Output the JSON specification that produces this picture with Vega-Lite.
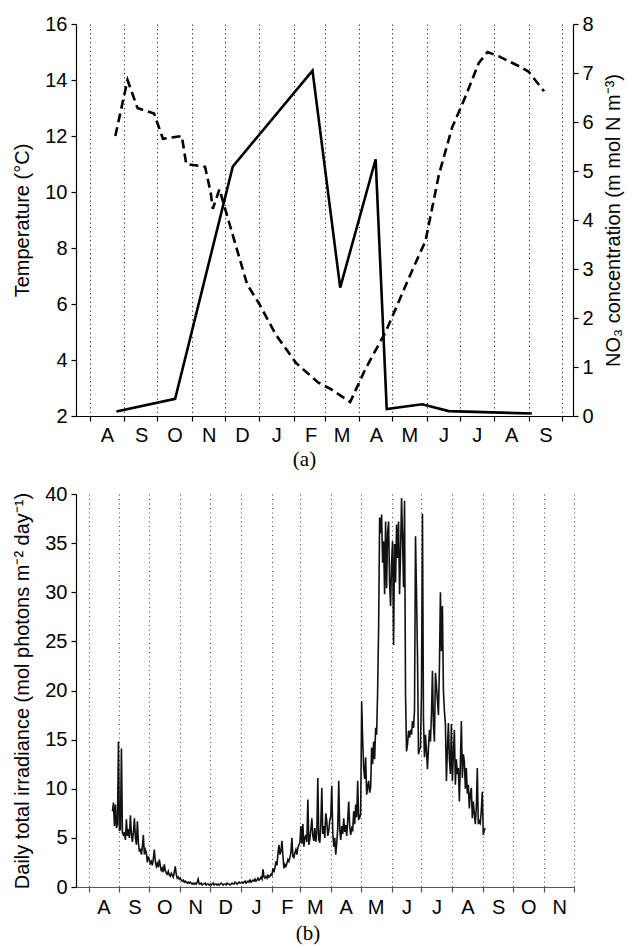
{
  "$schema": "https://vega.github.io/schema/vega-lite/v6.json",
  "background": "white",
  "padding": {"left": 12, "top": 14, "right": 5, "bottom": 5},
  "config": {
    "font": "Liberation Sans",
    "view": {"stroke": null},
    "axis": {
      "labelFont": "Liberation Sans", "titleFont": "Liberation Sans",
      "labelFontSize": 20, "titleFontSize": 20, "titleFontWeight": "normal",
      "labelColor": "black", "titleColor": "black",
      "domainColor": "black", "tickColor": "black", "domainWidth": 1.2, "tickWidth": 1.2,
      "grid": false, "tickSize": 5, "labelPadding": 4, "titleLimit": 1000
    },
    "title": {"font": "Liberation Serif", "fontSize": 21, "fontWeight": "normal", "color": "black"}
  },
  "vconcat": [
    {
      "width": 497,
      "height": 392,
      "title": {"text": "(a)", "orient": "bottom", "anchor": "middle", "offset": 4, "dx": -20},
      "encoding": {
        "x": {
          "field": "d", "type": "temporal",
          "scale": {"type": "utc", "domain": [
            {"year": 2006, "month": 7, "date": 19, "hours": 12, "utc": true},
            {"year": 2007, "month": 10, "date": 11, "hours": 4, "utc": true}
          ]},
          "axis": {
            "title": null,
            "grid": true, "gridDash": [1.2, 3.2], "gridColor": "#222", "gridWidth": 1,
            "values": [
              {"year": 2006, "month": 8, "date": 1, "utc": true},
              {"year": 2006, "month": 9, "date": 1, "utc": true},
              {"year": 2006, "month": 10, "date": 1, "utc": true},
              {"year": 2006, "month": 11, "date": 1, "utc": true},
              {"year": 2006, "month": 12, "date": 1, "utc": true},
              {"year": 2007, "month": 1, "date": 1, "utc": true},
              {"year": 2007, "month": 2, "date": 1, "utc": true},
              {"year": 2007, "month": 3, "date": 1, "utc": true},
              {"year": 2007, "month": 4, "date": 1, "utc": true},
              {"year": 2007, "month": 5, "date": 1, "utc": true},
              {"year": 2007, "month": 6, "date": 1, "utc": true},
              {"year": 2007, "month": 7, "date": 1, "utc": true},
              {"year": 2007, "month": 8, "date": 1, "utc": true},
              {"year": 2007, "month": 9, "date": 1, "utc": true},
              {"year": 2007, "month": 10, "date": 1, "utc": true}
            ],
            "labelExpr": "utcFormat(datum.value, '%Y%m') == '200710' ? '' : substring(utcFormat(datum.value, '%b'), 0, 1)",
            "labelOffset": 17, "labelFlush": false, "labelOverlap": false, "labelBound": false
          }
        }
      },
      "layer": [
        {
          "data": {"values": [
            {"d": "2006-08-24", "t": 12.0}, {"d": "2006-09-04", "t": 14.0}, {"d": "2006-09-13", "t": 13.0},
            {"d": "2006-09-28", "t": 12.8}, {"d": "2006-10-06", "t": 11.9}, {"d": "2006-10-23", "t": 12.0},
            {"d": "2006-10-27", "t": 11.0}, {"d": "2006-11-13", "t": 10.9}, {"d": "2006-11-18", "t": 10.0},
            {"d": "2006-11-20", "t": 9.4}, {"d": "2006-11-26", "t": 10.1}, {"d": "2006-12-07", "t": 8.6},
            {"d": "2006-12-21", "t": 6.7}, {"d": "2007-01-01", "t": 6.0}, {"d": "2007-01-16", "t": 4.9},
            {"d": "2007-02-03", "t": 3.9}, {"d": "2007-02-23", "t": 3.2}, {"d": "2007-03-07", "t": 2.95},
            {"d": "2007-03-24", "t": 2.5}, {"d": "2007-04-07", "t": 3.7}, {"d": "2007-04-25", "t": 5.0},
            {"d": "2007-05-07", "t": 6.1}, {"d": "2007-05-19", "t": 7.2}, {"d": "2007-05-31", "t": 8.25},
            {"d": "2007-06-12", "t": 10.6}, {"d": "2007-06-24", "t": 12.3}, {"d": "2007-07-06", "t": 13.4},
            {"d": "2007-07-18", "t": 14.6}, {"d": "2007-07-26", "t": 15.0}, {"d": "2007-08-05", "t": 14.85},
            {"d": "2007-08-23", "t": 14.5}, {"d": "2007-09-01", "t": 14.3}, {"d": "2007-09-15", "t": 13.6}
          ]},
          "mark": {"type": "line", "color": "black", "strokeWidth": 2.6, "strokeDash": [9, 5]},
          "encoding": {
            "y": {
              "field": "t", "type": "quantitative",
              "scale": {"domain": [2, 16], "nice": false, "zero": false},
              "axis": {"title": "Temperature (°C)", "values": [2, 4, 6, 8, 10, 12, 14, 16], "titlePadding": 12}
            }
          }
        },
        {
          "data": {"values": [
            {"d": "2006-08-25", "n": 0.09}, {"d": "2006-10-17", "n": 0.35}, {"d": "2006-12-08", "n": 5.09},
            {"d": "2007-02-18", "n": 7.05}, {"d": "2007-03-15", "n": 2.62}, {"d": "2007-04-16", "n": 5.24},
            {"d": "2007-04-26", "n": 0.14}, {"d": "2007-05-28", "n": 0.24}, {"d": "2007-06-21", "n": 0.1},
            {"d": "2007-09-04", "n": 0.05}
          ]},
          "mark": {"type": "line", "color": "black", "strokeWidth": 2.6},
          "encoding": {
            "y": {
              "field": "n", "type": "quantitative",
              "scale": {"domain": [0, 8], "nice": false},
              "axis": {"orient": "right", "title": "NO₃ concentration (m mol N m⁻³)", "values": [0, 1, 2, 3, 4, 5, 6, 7, 8], "titleAngle": 270, "titleBaseline": "top", "titlePadding": 10}
            }
          }
        }
      ],
      "resolve": {"scale": {"y": "independent"}, "axis": {"y": "independent"}}
    },
    {
      "width": 498,
      "height": 393,
      "title": {"text": "(b)", "orient": "bottom", "anchor": "middle", "offset": 6, "dx": -17},
      "data": {"values": [
        {"d":"2006-08-25","v":7.7},{"d":"2006-08-26","v":8.6},{"d":"2006-08-27","v":6.2},{"d":"2006-08-28","v":8.4},{"d":"2006-08-29","v":6.0},{"d":"2006-08-30","v":6.4},{"d":"2006-08-31","v":14.8},
        {"d":"2006-09-01","v":5.7},{"d":"2006-09-02","v":5.9},{"d":"2006-09-03","v":14.1},{"d":"2006-09-04","v":5.5},{"d":"2006-09-05","v":5.3},{"d":"2006-09-06","v":5.6},{"d":"2006-09-07","v":4.8},{"d":"2006-09-08","v":6.9},{"d":"2006-09-09","v":5.2},{"d":"2006-09-10","v":5.9},
        {"d":"2006-09-11","v":5.0},{"d":"2006-09-12","v":7.3},{"d":"2006-09-13","v":5.4},{"d":"2006-09-14","v":4.6},{"d":"2006-09-15","v":5.6},{"d":"2006-09-16","v":7.0},{"d":"2006-09-17","v":5.1},{"d":"2006-09-18","v":4.3},{"d":"2006-09-19","v":6.7},{"d":"2006-09-20","v":4.5},
        {"d":"2006-09-21","v":3.6},{"d":"2006-09-22","v":3.9},{"d":"2006-09-23","v":3.3},{"d":"2006-09-24","v":4.1},{"d":"2006-09-25","v":5.3},{"d":"2006-09-26","v":3.3},{"d":"2006-09-27","v":3.8},{"d":"2006-09-28","v":3.5},{"d":"2006-09-29","v":2.5},{"d":"2006-09-30","v":3.1},
        {"d":"2006-10-01","v":2.8},{"d":"2006-10-02","v":2.4},{"d":"2006-10-03","v":2.6},{"d":"2006-10-04","v":2.2},{"d":"2006-10-05","v":2.9},{"d":"2006-10-06","v":3.8},{"d":"2006-10-07","v":2.6},{"d":"2006-10-08","v":2.1},{"d":"2006-10-09","v":2.4},{"d":"2006-10-10","v":2.0},
        {"d":"2006-10-11","v":2.8},{"d":"2006-10-12","v":2.2},{"d":"2006-10-13","v":1.6},{"d":"2006-10-14","v":1.9},{"d":"2006-10-15","v":1.5},{"d":"2006-10-16","v":2.3},{"d":"2006-10-17","v":1.7},{"d":"2006-10-18","v":1.4},{"d":"2006-10-19","v":1.3},{"d":"2006-10-20","v":1.6},
        {"d":"2006-10-21","v":1.2},{"d":"2006-10-22","v":1.1},{"d":"2006-10-23","v":1.4},{"d":"2006-10-24","v":1.2},{"d":"2006-10-25","v":1.0},{"d":"2006-10-26","v":1.5},{"d":"2006-10-27","v":2.1},{"d":"2006-10-28","v":1.3},{"d":"2006-10-29","v":0.9},{"d":"2006-10-30","v":1.0},{"d":"2006-10-31","v":0.8},
        {"d":"2006-11-01","v":0.9},{"d":"2006-11-02","v":0.7},{"d":"2006-11-03","v":0.6},{"d":"2006-11-04","v":0.7},{"d":"2006-11-05","v":0.5},{"d":"2006-11-06","v":0.6},{"d":"2006-11-07","v":0.5},{"d":"2006-11-08","v":0.4},{"d":"2006-11-09","v":0.5},{"d":"2006-11-10","v":0.4},
        {"d":"2006-11-11","v":0.5},{"d":"2006-11-12","v":0.4},{"d":"2006-11-13","v":0.3},{"d":"2006-11-14","v":0.4},{"d":"2006-11-15","v":0.3},{"d":"2006-11-16","v":0.4},{"d":"2006-11-17","v":0.3},{"d":"2006-11-18","v":0.5},{"d":"2006-11-19","v":0.8},{"d":"2006-11-20","v":0.3},
        {"d":"2006-11-21","v":0.3},{"d":"2006-11-22","v":0.4},{"d":"2006-11-23","v":0.2},{"d":"2006-11-24","v":0.3},{"d":"2006-11-25","v":0.3},{"d":"2006-11-26","v":0.4},{"d":"2006-11-27","v":0.2},{"d":"2006-11-28","v":0.3},{"d":"2006-11-29","v":0.3},{"d":"2006-11-30","v":0.2},
        {"d":"2006-12-01","v":0.3},{"d":"2006-12-02","v":0.2},{"d":"2006-12-03","v":0.3},{"d":"2006-12-04","v":0.4},{"d":"2006-12-05","v":0.2},{"d":"2006-12-06","v":0.3},{"d":"2006-12-07","v":0.3},{"d":"2006-12-08","v":0.2},{"d":"2006-12-09","v":0.3},{"d":"2006-12-10","v":0.2},
        {"d":"2006-12-11","v":0.3},{"d":"2006-12-12","v":0.4},{"d":"2006-12-13","v":0.3},{"d":"2006-12-14","v":0.2},{"d":"2006-12-15","v":0.3},{"d":"2006-12-16","v":0.3},{"d":"2006-12-17","v":0.2},{"d":"2006-12-18","v":0.4},{"d":"2006-12-19","v":0.3},{"d":"2006-12-20","v":0.3},
        {"d":"2006-12-21","v":0.2},{"d":"2006-12-22","v":0.3},{"d":"2006-12-23","v":0.4},{"d":"2006-12-24","v":0.3},{"d":"2006-12-25","v":0.3},{"d":"2006-12-26","v":0.5},{"d":"2006-12-27","v":0.4},{"d":"2006-12-28","v":0.3},{"d":"2006-12-29","v":0.4},{"d":"2006-12-30","v":0.5},{"d":"2006-12-31","v":0.4},
        {"d":"2007-01-01","v":0.4},{"d":"2007-01-02","v":0.5},{"d":"2007-01-03","v":0.4},{"d":"2007-01-04","v":0.5},{"d":"2007-01-05","v":0.6},{"d":"2007-01-06","v":0.4},{"d":"2007-01-07","v":0.5},{"d":"2007-01-08","v":0.6},{"d":"2007-01-09","v":0.5},{"d":"2007-01-10","v":0.7},
        {"d":"2007-01-11","v":0.5},{"d":"2007-01-12","v":0.6},{"d":"2007-01-13","v":0.7},{"d":"2007-01-14","v":0.6},{"d":"2007-01-15","v":0.8},{"d":"2007-01-16","v":0.6},{"d":"2007-01-17","v":0.7},{"d":"2007-01-18","v":0.9},{"d":"2007-01-19","v":0.7},{"d":"2007-01-20","v":0.8},
        {"d":"2007-01-21","v":1.0},{"d":"2007-01-22","v":0.8},{"d":"2007-01-23","v":1.8},{"d":"2007-01-24","v":1.0},{"d":"2007-01-25","v":0.9},{"d":"2007-01-26","v":1.1},{"d":"2007-01-27","v":0.9},{"d":"2007-01-28","v":1.2},{"d":"2007-01-29","v":1.0},{"d":"2007-01-30","v":1.1},{"d":"2007-01-31","v":1.3},
        {"d":"2007-02-01","v":1.2},{"d":"2007-02-02","v":1.9},{"d":"2007-02-03","v":1.5},{"d":"2007-02-04","v":2.0},{"d":"2007-02-05","v":2.6},{"d":"2007-02-06","v":2.2},{"d":"2007-02-07","v":3.4},{"d":"2007-02-08","v":4.3},{"d":"2007-02-09","v":3.3},{"d":"2007-02-10","v":3.6},
        {"d":"2007-02-11","v":4.7},{"d":"2007-02-12","v":3.2},{"d":"2007-02-13","v":1.9},{"d":"2007-02-14","v":2.3},{"d":"2007-02-15","v":2.1},{"d":"2007-02-16","v":2.4},{"d":"2007-02-17","v":2.8},{"d":"2007-02-18","v":2.6},{"d":"2007-02-19","v":3.0},{"d":"2007-02-20","v":3.5},
        {"d":"2007-02-21","v":5.0},{"d":"2007-02-22","v":3.1},{"d":"2007-02-23","v":3.0},{"d":"2007-02-24","v":3.5},{"d":"2007-02-25","v":3.8},{"d":"2007-02-26","v":3.3},{"d":"2007-02-27","v":4.0},{"d":"2007-02-28","v":4.3},
        {"d":"2007-03-01","v":4.5},{"d":"2007-03-02","v":6.2},{"d":"2007-03-03","v":4.4},{"d":"2007-03-04","v":6.4},{"d":"2007-03-05","v":4.1},{"d":"2007-03-06","v":5.0},{"d":"2007-03-07","v":5.3},{"d":"2007-03-08","v":4.6},{"d":"2007-03-09","v":8.9},{"d":"2007-03-10","v":4.3},
        {"d":"2007-03-11","v":4.9},{"d":"2007-03-12","v":5.8},{"d":"2007-03-13","v":7.0},{"d":"2007-03-14","v":5.2},{"d":"2007-03-15","v":4.7},{"d":"2007-03-16","v":6.0},{"d":"2007-03-17","v":4.6},{"d":"2007-03-18","v":5.5},{"d":"2007-03-19","v":11.1},{"d":"2007-03-20","v":4.8},
        {"d":"2007-03-21","v":4.5},{"d":"2007-03-22","v":6.3},{"d":"2007-03-23","v":10.1},{"d":"2007-03-24","v":5.4},{"d":"2007-03-25","v":6.2},{"d":"2007-03-26","v":5.0},{"d":"2007-03-27","v":7.5},{"d":"2007-03-28","v":6.7},{"d":"2007-03-29","v":5.2},{"d":"2007-03-30","v":5.7},{"d":"2007-03-31","v":6.8},
        {"d":"2007-04-01","v":7.2},{"d":"2007-04-02","v":10.3},{"d":"2007-04-03","v":5.5},{"d":"2007-04-04","v":4.1},{"d":"2007-04-05","v":5.0},{"d":"2007-04-06","v":3.3},{"d":"2007-04-07","v":4.5},{"d":"2007-04-08","v":6.0},{"d":"2007-04-09","v":10.8},{"d":"2007-04-10","v":5.8},
        {"d":"2007-04-11","v":4.8},{"d":"2007-04-12","v":6.2},{"d":"2007-04-13","v":5.4},{"d":"2007-04-14","v":7.0},{"d":"2007-04-15","v":5.6},{"d":"2007-04-16","v":6.3},{"d":"2007-04-17","v":5.2},{"d":"2007-04-18","v":6.8},{"d":"2007-04-19","v":8.7},{"d":"2007-04-20","v":6.1},
        {"d":"2007-04-21","v":5.3},{"d":"2007-04-22","v":6.0},{"d":"2007-04-23","v":5.8},{"d":"2007-04-24","v":7.7},{"d":"2007-04-25","v":6.4},{"d":"2007-04-26","v":8.4},{"d":"2007-04-27","v":7.1},{"d":"2007-04-28","v":10.8},{"d":"2007-04-29","v":6.9},{"d":"2007-04-30","v":7.0},
        {"d":"2007-05-01","v":7.5},{"d":"2007-05-02","v":18.9},{"d":"2007-05-03","v":15.0},{"d":"2007-05-04","v":12.1},{"d":"2007-05-05","v":11.0},{"d":"2007-05-06","v":13.2},{"d":"2007-05-07","v":9.4},{"d":"2007-05-08","v":10.2},{"d":"2007-05-09","v":10.8},{"d":"2007-05-10","v":9.6},
        {"d":"2007-05-11","v":10.1},{"d":"2007-05-12","v":14.2},{"d":"2007-05-13","v":12.5},{"d":"2007-05-14","v":14.8},{"d":"2007-05-15","v":13.0},{"d":"2007-05-16","v":16.2},{"d":"2007-05-17","v":15.5},{"d":"2007-05-18","v":19.9},{"d":"2007-05-19","v":26.4},{"d":"2007-05-20","v":37.6},
        {"d":"2007-05-21","v":36.0},{"d":"2007-05-22","v":37.9},{"d":"2007-05-23","v":33.0},{"d":"2007-05-24","v":35.2},{"d":"2007-05-25","v":29.8},{"d":"2007-05-26","v":37.2},{"d":"2007-05-27","v":30.4},{"d":"2007-05-28","v":36.0},{"d":"2007-05-29","v":37.2},{"d":"2007-05-30","v":31.0},{"d":"2007-05-31","v":28.6},
        {"d":"2007-06-01","v":33.0},{"d":"2007-06-02","v":35.2},{"d":"2007-06-03","v":24.6},{"d":"2007-06-04","v":34.9},{"d":"2007-06-05","v":31.0},{"d":"2007-06-06","v":36.9},{"d":"2007-06-07","v":33.5},{"d":"2007-06-08","v":37.2},{"d":"2007-06-09","v":29.8},{"d":"2007-06-10","v":34.0},
        {"d":"2007-06-11","v":39.6},{"d":"2007-06-12","v":35.5},{"d":"2007-06-13","v":30.5},{"d":"2007-06-14","v":39.3},{"d":"2007-06-15","v":19.6},{"d":"2007-06-16","v":13.8},{"d":"2007-06-17","v":14.5},{"d":"2007-06-18","v":15.9},{"d":"2007-06-19","v":15.2},{"d":"2007-06-20","v":16.0},
        {"d":"2007-06-21","v":15.5},{"d":"2007-06-22","v":16.9},{"d":"2007-06-23","v":16.2},{"d":"2007-06-24","v":18.0},{"d":"2007-06-25","v":35.7},{"d":"2007-06-26","v":30.0},{"d":"2007-06-27","v":23.5},{"d":"2007-06-28","v":13.5},{"d":"2007-06-29","v":14.0},{"d":"2007-06-30","v":14.2},
        {"d":"2007-07-01","v":20.0},{"d":"2007-07-02","v":38.0},{"d":"2007-07-03","v":17.0},{"d":"2007-07-04","v":13.2},{"d":"2007-07-05","v":15.5},{"d":"2007-07-06","v":13.8},{"d":"2007-07-07","v":12.0},{"d":"2007-07-08","v":14.2},{"d":"2007-07-09","v":16.0},{"d":"2007-07-10","v":14.8},
        {"d":"2007-07-11","v":17.5},{"d":"2007-07-12","v":22.0},{"d":"2007-07-13","v":16.5},{"d":"2007-07-14","v":14.8},{"d":"2007-07-15","v":21.8},{"d":"2007-07-16","v":20.6},{"d":"2007-07-17","v":19.0},{"d":"2007-07-18","v":17.5},{"d":"2007-07-19","v":22.5},{"d":"2007-07-20","v":30.0},
        {"d":"2007-07-21","v":24.0},{"d":"2007-07-22","v":28.6},{"d":"2007-07-23","v":20.0},{"d":"2007-07-24","v":17.9},{"d":"2007-07-25","v":16.6},{"d":"2007-07-26","v":10.8},{"d":"2007-07-27","v":14.0},{"d":"2007-07-28","v":16.7},{"d":"2007-07-29","v":13.0},{"d":"2007-07-30","v":11.5},{"d":"2007-07-31","v":16.6},
        {"d":"2007-08-01","v":10.8},{"d":"2007-08-02","v":13.5},{"d":"2007-08-03","v":16.0},{"d":"2007-08-04","v":10.4},{"d":"2007-08-05","v":13.0},{"d":"2007-08-06","v":11.5},{"d":"2007-08-07","v":12.1},{"d":"2007-08-08","v":8.7},{"d":"2007-08-09","v":12.5},{"d":"2007-08-10","v":16.9},
        {"d":"2007-08-11","v":11.1},{"d":"2007-08-12","v":13.5},{"d":"2007-08-13","v":12.8},{"d":"2007-08-14","v":10.0},{"d":"2007-08-15","v":12.1},{"d":"2007-08-16","v":9.5},{"d":"2007-08-17","v":10.4},{"d":"2007-08-18","v":8.0},{"d":"2007-08-19","v":9.5},{"d":"2007-08-20","v":10.1},
        {"d":"2007-08-21","v":7.0},{"d":"2007-08-22","v":8.7},{"d":"2007-08-23","v":7.5},{"d":"2007-08-24","v":6.4},{"d":"2007-08-25","v":8.0},{"d":"2007-08-26","v":12.1},{"d":"2007-08-27","v":6.4},{"d":"2007-08-28","v":6.7},{"d":"2007-08-29","v":6.5},{"d":"2007-08-30","v":7.8},{"d":"2007-08-31","v":9.7},
        {"d":"2007-09-01","v":5.3},{"d":"2007-09-02","v":5.8},{"d":"2007-09-03","v":6.0}
      ]},
      "mark": {"type": "line", "color": "#111", "strokeWidth": 1.6},
      "encoding": {
        "x": {
          "field": "d", "type": "temporal",
          "scale": {"type": "utc", "domain": [
            {"year": 2006, "month": 7, "date": 19, "hours": 10, "utc": true},
            {"year": 2007, "month": 12, "date": 1, "utc": true}
          ]},
          "axis": {
            "title": null,
            "grid": true, "gridDash": [1, 3.5], "gridColor": "#444", "gridWidth": 1,
            "domainColor": "#555", "tickColor": "#555",
            "values": [
              {"year": 2006, "month": 8, "date": 1, "utc": true},
              {"year": 2006, "month": 9, "date": 1, "utc": true},
              {"year": 2006, "month": 10, "date": 1, "utc": true},
              {"year": 2006, "month": 11, "date": 1, "utc": true},
              {"year": 2006, "month": 12, "date": 1, "utc": true},
              {"year": 2007, "month": 1, "date": 1, "utc": true},
              {"year": 2007, "month": 2, "date": 1, "utc": true},
              {"year": 2007, "month": 3, "date": 1, "utc": true},
              {"year": 2007, "month": 4, "date": 1, "utc": true},
              {"year": 2007, "month": 5, "date": 1, "utc": true},
              {"year": 2007, "month": 6, "date": 1, "utc": true},
              {"year": 2007, "month": 7, "date": 1, "utc": true},
              {"year": 2007, "month": 8, "date": 1, "utc": true},
              {"year": 2007, "month": 9, "date": 1, "utc": true},
              {"year": 2007, "month": 10, "date": 1, "utc": true},
              {"year": 2007, "month": 11, "date": 1, "utc": true},
              {"year": 2007, "month": 12, "date": 1, "utc": true}
            ],
            "labelExpr": "utcFormat(datum.value, '%Y%m') == '200712' ? '' : substring(utcFormat(datum.value, '%b'), 0, 1)",
            "labelOffset": 15, "labelFlush": false, "labelOverlap": false, "labelBound": false, "labelPadding": 5
          }
        },
        "y": {
          "field": "v", "type": "quantitative",
          "scale": {"domain": [0, 40], "nice": false},
          "axis": {"title": "Daily total irradiance (mol photons m⁻² day⁻¹)", "values": [0, 5, 10, 15, 20, 25, 30, 35, 40], "titlePadding": 12}
        }
      }
    }
  ],
  "bounds": "flush",
  "spacing": 78
}
